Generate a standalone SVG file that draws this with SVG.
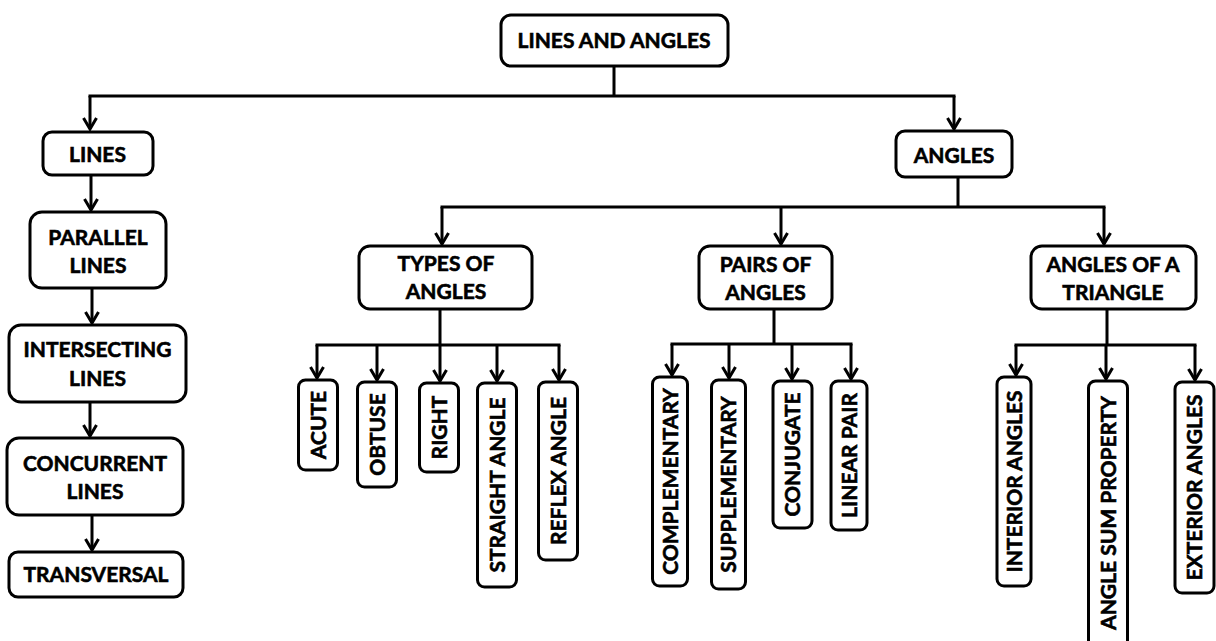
<svg xmlns="http://www.w3.org/2000/svg" width="1216" height="641" viewBox="0 0 1216 641">
  <defs>
    <style>
      .box { fill: #fff; stroke: #000; stroke-width: 3; }
      .lbl { font-family: Lato, "Open Sans", "Liberation Sans", sans-serif; font-weight: bold; font-size: 21px; fill: #000; stroke: #000; stroke-width: 0.6; text-anchor: middle; }
      .wire { fill: none; stroke: #000; stroke-width: 3; stroke-linecap: square; }
      .arr { fill: none; stroke: #000; stroke-width: 3; marker-end: url(#chev); }
    </style>
    <marker id="chev" markerUnits="userSpaceOnUse" orient="auto" refX="0" refY="0" markerWidth="20" markerHeight="20" viewBox="-14 -10 20 20" overflow="visible">
      <path d="M-11,-6.5 L0,0 L-11,6.5" fill="none" stroke="#000" stroke-width="3" stroke-linejoin="miter" stroke-linecap="butt"/>
    </marker>
  </defs>
  <rect width="1216" height="641" fill="#fff"/>

  <!-- connectors -->
  <g id="connectors">
    <path class="wire" d="M614,66 V96 M90,96 H954"/>
    <path class="arr" d="M90,96 V129"/>
    <path class="arr" d="M954,96 V129"/>

    <path class="arr" d="M91,175 V210"/>
    <path class="arr" d="M92,288 V323"/>
    <path class="arr" d="M90,402 V436"/>
    <path class="arr" d="M92,515 V550"/>

    <path class="wire" d="M958,177 V207 M442,207 H1104"/>
    <path class="arr" d="M442,207 V244"/>
    <path class="arr" d="M781,207 V244"/>
    <path class="arr" d="M1104,207 V244"/>

    <path class="wire" d="M440,309 V345 M317,345 H559"/>
    <path class="arr" d="M317,345 V378"/>
    <path class="arr" d="M377,345 V380"/>
    <path class="arr" d="M440,345 V381"/>
    <path class="arr" d="M497,345 V381"/>
    <path class="arr" d="M559,345 V380"/>

    <path class="wire" d="M774,309 V344 M672,344 H851"/>
    <path class="arr" d="M672,344 V375"/>
    <path class="arr" d="M729,344 V378"/>
    <path class="arr" d="M792,344 V379"/>
    <path class="arr" d="M851,344 V379"/>

    <path class="wire" d="M1107,309 V345 M1016,345 H1195"/>
    <path class="arr" d="M1016,345 V375"/>
    <path class="arr" d="M1106,345 V379"/>
    <path class="arr" d="M1195,345 V380"/>
  </g>

  <!-- root -->
  <g id="lines-and-angles">
    <rect class="box" x="501" y="15" width="227" height="51" rx="10"/>
    <text class="lbl" x="614" y="48">LINES AND ANGLES</text>
  </g>

  <!-- lines branch -->
  <g id="lines">
    <rect class="box" x="43" y="132" width="110" height="43" rx="9"/>
    <text class="lbl" x="97.5" y="162">LINES</text>
  </g>
  <g id="parallel-lines">
    <rect class="box" x="30" y="212" width="136" height="76" rx="12"/>
    <text class="lbl" x="98" y="245">PARALLEL</text>
    <text class="lbl" x="98" y="273">LINES</text>
  </g>
  <g id="intersecting-lines">
    <rect class="box" x="9" y="325" width="177" height="77" rx="12"/>
    <text class="lbl" x="97.5" y="357">INTERSECTING</text>
    <text class="lbl" x="97.5" y="386">LINES</text>
  </g>
  <g id="concurrent-lines">
    <rect class="box" x="7" y="438" width="176" height="77" rx="12"/>
    <text class="lbl" x="95" y="471">CONCURRENT</text>
    <text class="lbl" x="95" y="499">LINES</text>
  </g>
  <g id="transversal">
    <rect class="box" x="9" y="552" width="174" height="45" rx="9"/>
    <text class="lbl" x="96" y="582">TRANSVERSAL</text>
  </g>

  <!-- angles branch -->
  <g id="angles">
    <rect class="box" x="896" y="131" width="116" height="46" rx="9"/>
    <text class="lbl" x="954" y="162.5">ANGLES</text>
  </g>
  <g id="types-of-angles">
    <rect class="box" x="359" y="246" width="173" height="63" rx="11"/>
    <text class="lbl" x="446" y="271">TYPES OF</text>
    <text class="lbl" x="446" y="299">ANGLES</text>
  </g>
  <g id="pairs-of-angles">
    <rect class="box" x="699" y="246" width="133" height="63" rx="11"/>
    <text class="lbl" x="765.5" y="272">PAIRS OF</text>
    <text class="lbl" x="765.5" y="300">ANGLES</text>
  </g>
  <g id="angles-of-a-triangle">
    <rect class="box" x="1031" y="246" width="165" height="63" rx="11"/>
    <text class="lbl" x="1113" y="271.5">ANGLES OF A</text>
    <text class="lbl" x="1113" y="299.5">TRIANGLE</text>
  </g>

  <!-- types of angles -->
  <g id="acute">
    <rect class="box" x="298.5" y="380" width="39" height="90" rx="7"/>
    <text class="lbl" transform="translate(318,425) rotate(-90)" y="7.5">ACUTE</text>
  </g>
  <g id="obtuse">
    <rect class="box" x="357.5" y="382" width="39" height="105" rx="7"/>
    <text class="lbl" transform="translate(377,434.5) rotate(-90)" y="7.5">OBTUSE</text>
  </g>
  <g id="right">
    <rect class="box" x="419.5" y="383" width="39" height="89" rx="7"/>
    <text class="lbl" transform="translate(439,427.5) rotate(-90)" y="7.5">RIGHT</text>
  </g>
  <g id="straight-angle">
    <rect class="box" x="477.5" y="383" width="39" height="204" rx="7"/>
    <text class="lbl" transform="translate(497,485) rotate(-90)" y="7.5">STRAIGHT ANGLE</text>
  </g>
  <g id="reflex-angle">
    <rect class="box" x="538.5" y="382" width="39" height="178" rx="7"/>
    <text class="lbl" transform="translate(558,471) rotate(-90)" y="7.5">REFLEX ANGLE</text>
  </g>

  <!-- pairs of angles -->
  <g id="complementary">
    <rect class="box" x="652.5" y="377" width="35" height="209" rx="7"/>
    <text class="lbl" transform="translate(670,481.5) rotate(-90)" y="7.5">COMPLEMENTARY</text>
  </g>
  <g id="supplementary">
    <rect class="box" x="711.5" y="380" width="34" height="209" rx="7"/>
    <text class="lbl" transform="translate(728.5,484.5) rotate(-90)" y="7.5">SUPPLEMENTARY</text>
  </g>
  <g id="conjugate">
    <rect class="box" x="773" y="381" width="39" height="147" rx="7"/>
    <text class="lbl" transform="translate(792.5,454.5) rotate(-90)" y="7.5">CONJUGATE</text>
  </g>
  <g id="linear-pair">
    <rect class="box" x="831" y="381" width="36" height="149" rx="7"/>
    <text class="lbl" transform="translate(849,455.5) rotate(-90)" y="7.5">LINEAR PAIR</text>
  </g>

  <!-- angles of a triangle -->
  <g id="interior-angles">
    <rect class="box" x="997" y="377" width="34" height="209" rx="7"/>
    <text class="lbl" transform="translate(1014,481.5) rotate(-90)" y="7.5">INTERIOR ANGLES</text>
  </g>
  <g id="angle-sum-property">
    <rect class="box" x="1088.5" y="381" width="39" height="268" rx="7"/>
    <text class="lbl" transform="translate(1108,513) rotate(-90)" y="7.5">ANGLE SUM PROPERTY</text>
  </g>
  <g id="exterior-angles">
    <rect class="box" x="1175" y="382" width="39" height="211" rx="7"/>
    <text class="lbl" transform="translate(1194.5,487.5) rotate(-90)" y="7.5">EXTERIOR ANGLES</text>
  </g>
</svg>
